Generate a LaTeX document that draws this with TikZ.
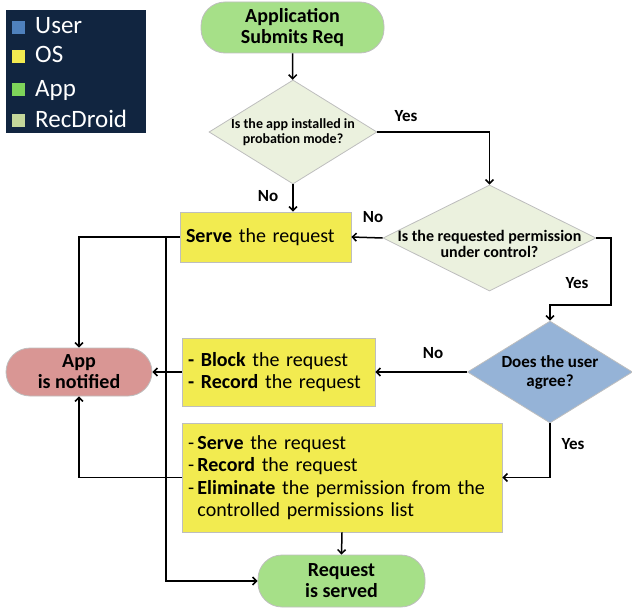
\documentclass[tikz,border=0pt]{standalone}
\usepackage{fontspec}
\setmainfont{Carlito}
\usetikzlibrary{shapes.geometric,arrows.meta}

\definecolor{legendbg}{RGB}{17,37,64}
\definecolor{usercol}{RGB}{79,129,189}
\definecolor{oscol}{RGB}{242,234,80}
\definecolor{appcol}{RGB}{126,212,90}
\definecolor{reccol}{RGB}{196,215,155}
\definecolor{termgreen}{RGB}{166,224,136}
\definecolor{termred}{RGB}{217,150,148}
\definecolor{boxyellow}{RGB}{242,235,80}
\definecolor{decfill}{RGB}{235,241,222}
\definecolor{decblue}{RGB}{149,179,215}
\definecolor{edgegray}{RGB}{190,190,190}

\tikzset{
  terminal/.style={draw=edgegray, line width=0.8pt, rounded corners=24pt, align=center,
    font=\fontsize{20}{21}\selectfont\bfseries, inner sep=0pt},
  decision/.style={diamond, draw=edgegray, line width=0.8pt, fill=decfill, inner sep=0pt},
  dtext/.style={align=center, inner sep=0pt},
  action/.style={draw=edgegray, line width=0.8pt, fill=boxyellow, align=left, inner xsep=6pt,
    inner ysep=0pt, font=\fontsize{20}{22.5}\selectfont},
  lbl/.style={font=\fontsize{17}{17}\selectfont\bfseries, inner sep=0pt},
  legtext/.style={font=\fontsize{25}{25}\selectfont, text=white, inner sep=0pt},
  flow/.style={line width=1.5pt, -{Straight Barb[length=4pt,width=8pt]}},
}

\begin{document}
\begin{tikzpicture}[x=1pt, y=-1pt]
  \useasboundingbox (0,0) rectangle (632,610);

  % legend
  \fill[legendbg] (6,10) rectangle (146,133);
  \foreach \c/\yb/\t [count=\i] in {usercol/34/User, oscol/63/OS, appcol/96/App, reccol/127/RecDroid} {
    \fill[\c] (12,\yb-13) rectangle (25,\yb);
    \node[legtext, anchor=base west] (leg\i) at (35,\yb) {\t};
  }

  % nodes
  \node[terminal, fill=termgreen, minimum width=183pt, minimum height=51pt] (start) at (292.5,27.5) {Application\\Submits Req};
  \node[decision, minimum width=168pt, minimum height=104pt,
    label={[dtext, font=\fontsize{14}{15}\selectfont\bfseries]center:{Is the app installed in\\probation mode?}}] (mode) at (293,132) {};
  \node[action, text width=159pt, minimum height=50pt] (serve) at (265.5,237) {\textbf{Serve} the request};
  \node[decision, minimum width=213pt, minimum height=106pt,
    label={[dtext, yshift=-6pt, font=\fontsize{16}{16}\selectfont\bfseries]center:{Is the requested permission\\under control?}}] (ctrl) at (489.5,238) {};
  \node[decision, fill=decblue, minimum width=165pt, minimum height=102pt,
    label={[dtext, font=\fontsize{17}{19}\selectfont\bfseries]center:{Does the user\\agree?}}] (agree) at (550,372) {};
  \node[action, text width=181pt, minimum height=68pt] (block) at (278.5,372)
    {\textbf{- Block} the request\\\textbf{- Record} the request};
  \node[terminal, fill=termred, minimum width=146pt, minimum height=48pt] (notified) at (79,372) {App\\is notified};
  \node[action, text width=308pt, minimum height=109pt] (grant) at (342,477.5)
    {-\,\textbf{Serve} the request\\-\,\textbf{Record} the request\\-\,\textbf{Eliminate} the permission from the\\\hphantom{-\,}controlled permissions list};
  \node[terminal, fill=termgreen, minimum width=167pt, minimum height=52pt] (served) at (341.5,581) {Request\\is served};

  % labels
  \node[lbl] (yes1) at (406,116) {Yes};
  \node[lbl] (no1) at (268,196) {No};
  \node[lbl] (no2) at (373,217) {No};
  \node[lbl] (yes2) at (577,283) {Yes};
  \node[lbl] (no3) at (433,353) {No};
  \node[lbl] (yes3) at (573,444) {Yes};

  % connectors
  \coordinate (bend) at (611,305);
  \coordinate (split) at (166,237);
  \draw[flow] (start) -- (mode);
  \draw[flow] (mode.east) -| (ctrl.north);
  \draw[flow] (mode.south) -- (mode.south |- serve.north);
  \draw[flow] (ctrl.west) -- (serve.east);
  \draw[flow] (ctrl.east) -| (bend) -| (agree.north);
  \draw[flow] (agree.west) -- (block.east);
  \draw[flow] (block.west) -- (notified.east);
  \draw[flow] (serve.west) -| (notified.north);
  \draw[flow] (split) |- (served.west);
  \draw[flow] (agree.south) |- (grant.east);
  \draw[flow] (grant.west) -| (notified.south);
  \draw[flow] (grant.south) -- (served.north);
\end{tikzpicture}
\end{document}
